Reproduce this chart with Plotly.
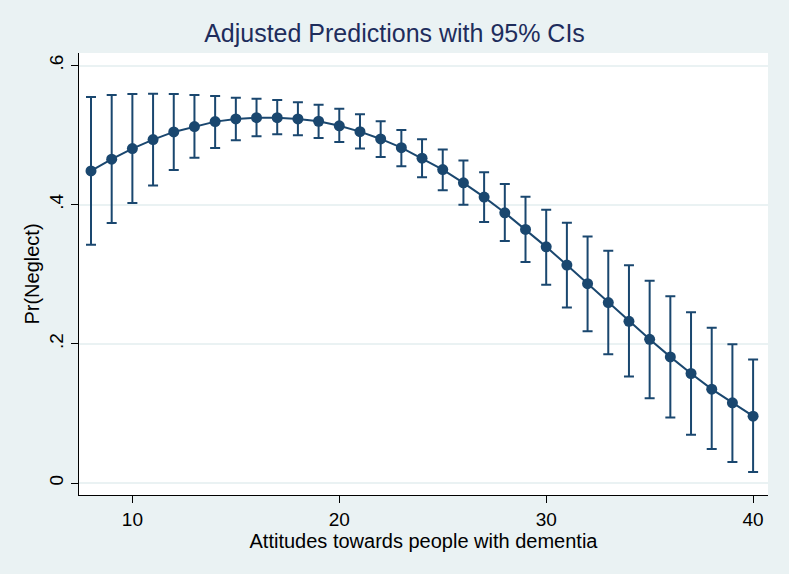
import plotly.graph_objects as go

# Attitude score (x) and predicted probability with 95% CI bounds
attitude = list(range(8, 41))
pr_neglect = [0.4486, 0.4654, 0.4807, 0.4936, 0.5046, 0.5122, 0.5194, 0.5232, 0.5251, 0.5251,
              0.5232, 0.5199, 0.5134, 0.5050, 0.4945, 0.4820, 0.4668, 0.4505, 0.4314, 0.4109,
              0.3884, 0.3644, 0.3394, 0.3133, 0.2865, 0.2593, 0.2324, 0.2066, 0.1813, 0.1574,
              0.1349, 0.1153, 0.0961]
ci_upper = [0.5546, 0.5577, 0.5591, 0.5596, 0.5590, 0.5577, 0.5562, 0.5538, 0.5524, 0.5505,
            0.5472, 0.5438, 0.5378, 0.5300, 0.5200, 0.5075, 0.4941, 0.4792, 0.4634, 0.4468,
            0.4296, 0.4113, 0.3927, 0.3742, 0.3544, 0.3339, 0.3128, 0.2908, 0.2683, 0.2453,
            0.2230, 0.1994, 0.1775]
ci_lower = [0.3425, 0.3736, 0.4023, 0.4276, 0.4500, 0.4673, 0.4816, 0.4926, 0.4984, 0.5013,
            0.4998, 0.4960, 0.4900, 0.4807, 0.4687, 0.4553, 0.4396, 0.4209, 0.3999, 0.3750,
            0.3478, 0.3176, 0.2848, 0.2523, 0.2181, 0.1851, 0.1531, 0.1220, 0.0943, 0.0694,
            0.0488, 0.0301, 0.0158]

y_ticks = [0, 0.2, 0.4, 0.6]
y_tick_labels = ["0", ".2", ".4", ".6"]
x_ticks = [10, 20, 30, 40]

navy = '#1a476f'
bg = '#eaf2f3'
font = 'Liberation Sans, Arial, sans-serif'

err_plus = [u - p for u, p in zip(ci_upper, pr_neglect)]
err_minus = [p - l for p, l in zip(pr_neglect, ci_lower)]

fig = go.Figure()
fig.add_trace(go.Scatter(
    x=attitude, y=pr_neglect,
    mode='lines+markers',
    line=dict(color=navy, width=2),
    marker=dict(color=navy, size=11),
    error_y=dict(type='data', symmetric=False, array=err_plus, arrayminus=err_minus,
                 color=navy, thickness=2, width=5),
    showlegend=False,
))

fig.update_layout(
    width=789, height=574,
    paper_bgcolor=bg,
    plot_bgcolor='white',
    margin=dict(l=79, r=21, t=53, b=79),
    title=dict(text='Adjusted Predictions with 95% CIs', x=0.5, xanchor='center',
               y=1 - 33 / 574, yanchor='middle',
               font=dict(family=font, size=25, color='#1e2d5c')),
    font=dict(family=font, color='black'),
)

fig.update_xaxes(
    range=[7.42, 40.72],
    tickvals=x_ticks,
    ticks='outside', ticklen=7, tickcolor='black', tickwidth=1,
    showline=True, linecolor='black', linewidth=1,
    showgrid=False, zeroline=False,
    tickfont=dict(size=19),
    title=dict(text='Attitudes towards people with dementia', font=dict(size=20), standoff=0),
)
fig.update_yaxes(
    range=[-0.0172, 0.618],
    tickvals=y_ticks, ticktext=y_tick_labels, tickangle=-90,
    ticks='outside', ticklen=7, tickcolor='black', tickwidth=1,
    showline=True, linecolor='black', linewidth=1,
    showgrid=True, gridcolor=bg, gridwidth=1.5, zeroline=False,
    tickfont=dict(size=19),
    title=dict(text='Pr(Neglect)', font=dict(size=20), standoff=1),
)

# drop the default page margin so the figure fills the window
fig.write_html("out.html", config={'displayModeBar': False},
               post_script="document.body.style.margin='0';")
